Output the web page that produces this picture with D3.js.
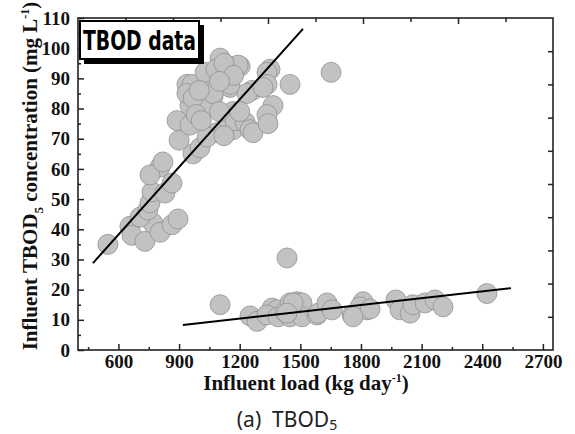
<!DOCTYPE html>
<html>
<head>
<meta charset="utf-8">
<script src="https://cdn.jsdelivr.net/npm/d3@7"></script>
<style>
  body { margin: 0; background: #fff; }
  svg { display: block; }
</style>
</head>
<body>
<svg id="chart" width="575" height="434"></svg>
<script>
// influent load (kg/day) vs TBOD5 (mg/L)
var upperLoad = [548,657,667,731,771,806,865,895,707,746,756,766,830,865,806,756,820,900,969,1004,
                 890,954,954,964,939,964,1019,1039,1068,1103,1152,1137,1152,1202,1167,1167,1088,1039,1137,1177,
                 1226,1122,1261,1236,1251,1266,1350,1335,1335,1315,1365,1335,1340,1449,1652,1029,1192,1142,1029,1068,
                 1152,939,969,1083,1122,1170,1100,1000,985,1010,1100,1200];
var upperConc = [35,41,38,36,42,39,41.5,43.4,44,46.4,48.7,52.4,52,55.3,60.6,58,62.3,69.5,65,67,
                 76,74.5,81,84,88,88,80,91,84,96.7,94,90.5,87,94,79,73,72,70.6,77,76,
                 75.5,71,86,85,73,72,93,92,88,87,81,78,75,88,92,80,94.4,92,92,85,
                 88,85,83.5,93,95,91,89,86,78,76,79,79];

var lowerLoad = [1103,1434,1251,1286,1360,1385,1335,1390,1424,1449,1484,1508,1449,1508,1464,1434,1582,1588,1632,1657,
                 1756,1806,1830,1810,1795,1845,1761,1973,1993,2043,2057,2117,2166,2206,2423];
var lowerConc = [15,30.5,11.3,9.5,13.9,13.3,11.6,11,12.6,15.6,16,15.6,11,11,15.6,12.2,11.6,12.2,15.6,13.3,
                 11.6,15,13.3,16,14.3,13.6,11,16.6,13.3,12.2,15,15.6,16.6,14.3,18.7];

// fitted lines (end points)
var fitUpperX = [474, 1513], fitUpperY = [28.8, 106.4];
var fitLowerX = [919, 2542], fitLowerY = [8.3, 20.5];

var xTicks = [600, 900, 1200, 1500, 1800, 2100, 2400, 2700];
var xMinor = [450, 750, 1050, 1350, 1650, 1950, 2250, 2550];
var yTicks = [0, 10, 20, 30, 40, 50, 60, 70, 80, 90, 100, 110];
var yMinor = [5, 15, 25, 35, 45, 55, 65, 75, 85, 95, 105];

var svg = d3.select("#chart");
var margin = {top: 18, left: 78},
    width = 475, height = 332;

var x = d3.scaleLinear().domain([400, 2750]).range([margin.left, margin.left + width]);
var y = d3.scaleLinear().domain([0, 110]).range([margin.top + height, margin.top]);
// mirrored top/right axes in the original use their own spacing
var xTop = d3.scaleLinear().domain([0, 10]).range([margin.left, margin.left + width]);
var yRight = d3.scaleLinear().domain([0, 10]).range([margin.top + height, margin.top]);

var serif = "'Liberation Serif', 'Times New Roman', serif";

// points
var pts = upperLoad.map(function(d, i){ return [d, upperConc[i]]; })
    .concat(lowerLoad.map(function(d, i){ return [d, lowerConc[i]]; }));

svg.append("g")
    .selectAll("circle")
    .data(pts)
    .enter().append("circle")
    .attr("cx", function(d){ return x(d[0]); })
    .attr("cy", function(d){ return y(d[1]); })
    .attr("r", 10)
    .style("fill", "#c2c2c2")
    .style("stroke", "#909090")
    .style("stroke-width", 0.8);

// fit lines
var line = d3.line().x(function(d){ return x(d[0]); }).y(function(d){ return y(d[1]); });
[[fitUpperX, fitUpperY], [fitLowerX, fitLowerY]].forEach(function(f){
    svg.append("path")
        .datum(f[0].map(function(d, i){ return [d, f[1][i]]; }))
        .attr("d", line)
        .style("fill", "none")
        .style("stroke", "#000")
        .style("stroke-width", 2);
});

// axes
function styleAxis(g){
    g.select(".domain").remove();
    g.selectAll("line").style("stroke", "#222").style("stroke-width", 1.5);
    g.selectAll("text").style("font-family", serif).style("font-weight", "bold")
        .style("font-size", "19px").style("fill", "#111");
}

svg.append("g").attr("transform", "translate(0," + (margin.top + height) + ")")
    .call(d3.axisBottom(x).tickValues(xTicks).tickSize(-6).tickPadding(5).tickFormat(d3.format("d")))
    .call(styleAxis);
svg.append("g").attr("transform", "translate(0," + (margin.top + height) + ")")
    .call(d3.axisBottom(x).tickValues(xMinor).tickSize(-3).tickFormat(""))
    .call(styleAxis);

svg.append("g").attr("transform", "translate(" + margin.left + ",0)")
    .call(d3.axisLeft(y).tickValues(yTicks).tickSize(-6).tickPadding(8))
    .call(styleAxis);
svg.append("g").attr("transform", "translate(" + margin.left + ",0)")
    .call(d3.axisLeft(y).tickValues(yMinor).tickSize(-3).tickFormat(""))
    .call(styleAxis);

svg.append("g").attr("transform", "translate(0," + margin.top + ")")
    .call(d3.axisTop(xTop).tickValues([2, 4, 6, 8]).tickSize(-6).tickFormat(""))
    .call(styleAxis);
svg.append("g").attr("transform", "translate(0," + margin.top + ")")
    .call(d3.axisTop(xTop).tickValues([1, 3, 5, 7, 9]).tickSize(-4).tickFormat(""))
    .call(styleAxis);
svg.append("g").attr("transform", "translate(" + (margin.left + width) + ",0)")
    .call(d3.axisRight(yRight).tickValues(d3.range(1, 10)).tickSize(-5).tickFormat(""))
    .call(styleAxis);

// frame
svg.append("rect")
    .attr("x", margin.left).attr("y", margin.top)
    .attr("width", width).attr("height", height)
    .style("fill", "none").style("stroke", "#222").style("stroke-width", 1.6);

// "TBOD data" label box
svg.append("rect").attr("x", 84).attr("y", 25).attr("width", 120).attr("height", 39).style("fill", "#000");
svg.append("rect").attr("x", 80).attr("y", 21).attr("width", 119).attr("height", 38)
    .style("fill", "#fff").style("stroke", "#000").style("stroke-width", 2);
svg.append("text")
    .attr("x", 83).attr("y", 50)
    .attr("textLength", 113).attr("lengthAdjust", "spacingAndGlyphs")
    .style("font-family", "'DejaVu Sans Condensed', 'DejaVu Sans', sans-serif")
    .style("font-weight", "bold").style("font-size", "27px").style("fill", "#000")
    .text("TBOD data");

// x axis title
var xt = svg.append("text")
    .attr("x", 306).attr("y", 390)
    .attr("text-anchor", "middle")
    .style("font-family", serif).style("font-weight", "bold").style("font-size", "21px").style("fill", "#111");
xt.append("tspan").text("Influent load (kg day");
xt.append("tspan").attr("dy", -8).style("font-size", "12px").text("-1");
xt.append("tspan").attr("dy", 8).text(")");

// y axis title
var yt = svg.append("text")
    .attr("transform", "translate(37,176) rotate(-90)")
    .attr("text-anchor", "middle")
    .style("font-family", serif).style("font-weight", "bold").style("font-size", "21px").style("fill", "#111");
yt.append("tspan").text("Influent TBOD");
yt.append("tspan").attr("dy", 6).style("font-size", "13px").text("5");
yt.append("tspan").attr("dy", -6).text(" concentration (mg L");
yt.append("tspan").attr("dy", -8).style("font-size", "12px").text("-1");
yt.append("tspan").attr("dy", 8).text(")");

// caption
var cap = svg.append("text")
    .attr("x", 287).attr("y", 427)
    .attr("text-anchor", "middle")
    .style("white-space", "pre")
    .style("font-family", "'Noto Sans', sans-serif").style("font-size", "21px").style("fill", "#222");
cap.append("tspan").text("(a)  TBOD");
cap.append("tspan").attr("dy", 3).style("font-size", "14px").text("5");
</script>
</body>
</html>
